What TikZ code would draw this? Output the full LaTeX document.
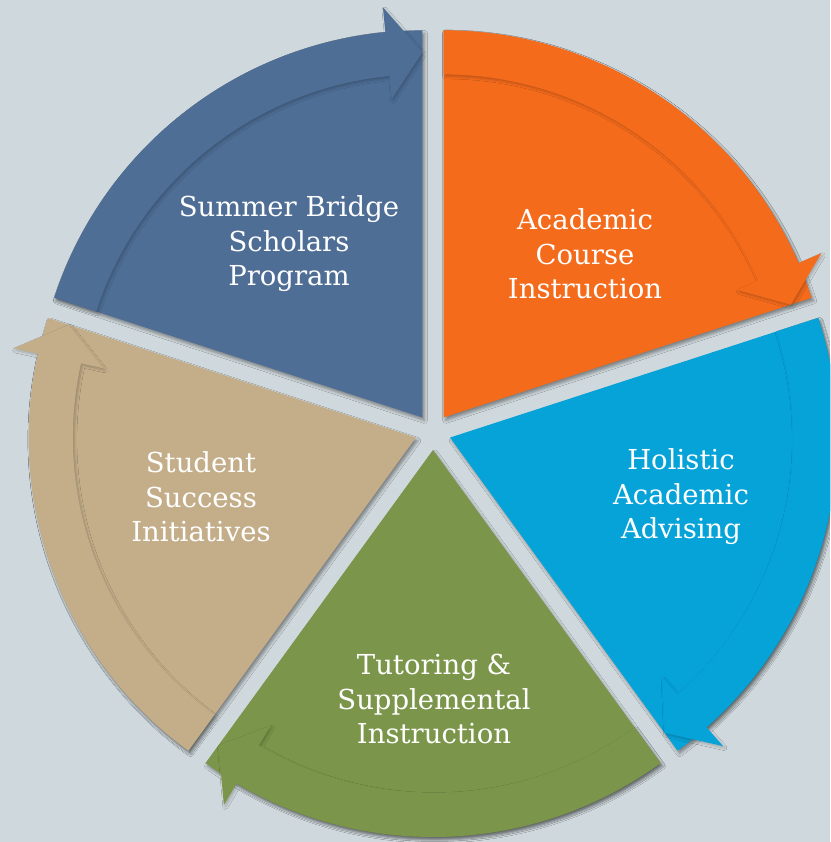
\documentclass[tikz,border=0pt]{standalone}
\usepackage{fontspec}
\setmainfont{DejaVu Serif}
\usetikzlibrary{shadows.blur}
\definecolor{bg}{HTML}{CFD8DC}
\definecolor{cBlue}{HTML}{4E6E96}
\definecolor{cOrange}{HTML}{F46B1C}
\definecolor{cCyan}{HTML}{06A3D9}
\definecolor{cGreen}{HTML}{7B964A}
\definecolor{cTan}{HTML}{C4AE8A}
\tikzset{
  wedgeshadow/.style={blur shadow={shadow xshift=2pt, shadow yshift=-3pt, shadow blur radius=3pt, shadow opacity=40}},
  arrowshadow/.style={blur shadow={shadow xshift=1.5pt, shadow yshift=-2pt, shadow blur radius=2.5pt, shadow opacity=22}},
  seglabel/.style={text=white, align=center, font=\fontsize{27.5}{34.5}\selectfont, inner sep=0pt},
}
\newcommand\drawseg[2]{%
  \begin{scope}[shift={(433pt,410pt)}, shift={({#1-36}:18pt)}]
    \fill[#2, wedgeshadow] (0pt,0pt) -- (#1:387pt) arc[start angle=#1, end angle={#1-72}, radius=387pt] -- cycle;
    \fill[#2, arrowshadow] (#1:387pt) arc[start angle=#1, end angle={#1-66.5}, radius=387pt]
      -- ({#1-66.5}:412pt) -- ({#1-72}:365pt) -- ({#1-66.5}:320pt) -- ({#1-66.5}:343pt)
      arc[start angle={#1-66.5}, end angle=#1, radius=343pt] -- cycle;
  \end{scope}}
\begin{document}
\begin{tikzpicture}
  \useasboundingbox (0pt,0pt) rectangle (830pt,842pt);
  \clip (0pt,0pt) rectangle (830pt,842pt);
  \fill[bg] (0pt,0pt) rectangle (830pt,842pt);
  \drawseg{162}{cBlue}
  \drawseg{90}{cOrange}
  \drawseg{18}{cCyan}
  \drawseg{-54}{cGreen}
  \drawseg{-126}{cTan}
  \node[seglabel] (summer) at (289pt,598pt) {Summer Bridge\\Scholars\\Program};
  \node[seglabel] (academic) at (585pt,588pt) {Academic\\Course\\Instruction};
  \node[seglabel] (holistic) at (681pt,345pt) {Holistic\\Academic\\Advising};
  \node[seglabel] (tutoring) at (434pt,143pt) {Tutoring \&\\Supplemental\\Instruction};
  \node[seglabel] (student) at (201pt,345pt) {Student\\Success\\Initiatives};
\end{tikzpicture}
\end{document}
